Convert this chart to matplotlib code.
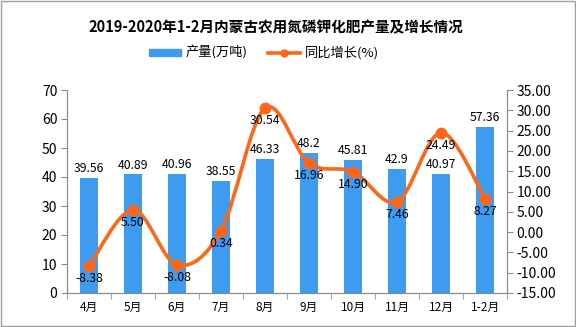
import matplotlib.pyplot as plt
import numpy as np
from matplotlib.path import Path
from matplotlib.patches import PathPatch
from matplotlib.lines import Line2D
from matplotlib.patches import Patch

plt.rcParams['font.family'] = ['Noto Sans CJK SC', 'DejaVu Sans']

months = ['4月', '5月', '6月', '7月', '8月', '9月', '10月', '11月', '12月', '1-2月']
output = [39.56, 40.89, 40.96, 38.55, 46.33, 48.2, 45.81, 42.9, 40.97, 57.36]
growth = [-8.38, 5.50, -8.08, 0.34, 30.54, 16.96, 14.90, 7.46, 24.49, 8.27]
output_labels = ['39.56', '40.89', '40.96', '38.55', '46.33', '48.2', '45.81', '42.9', '40.97', '57.36']
growth_labels = ['-8.38', '5.50', '-8.08', '0.34', '30.54', '16.96', '14.90', '7.46', '24.49', '8.27']

bar_color = '#3d9cf0'
line_color = '#ff6619'
axis_color = '#8c8c8c'

fig = plt.figure(figsize=(5.76, 3.27), dpi=100)
ax = fig.add_axes([67 / 576, 1 - 293 / 327, 440 / 576, 203 / 327])
ax2 = ax.twinx()

x = np.arange(len(months))
ax.bar(x, output, width=0.41, color=bar_color, zorder=2)
for xi, v, s in zip(x, output, output_labels):
    ax.text(xi, v + 1.0, s, ha='center', va='bottom', fontsize=8.8)

ax.set_xlim(-0.5, len(months) - 0.5)
ax.set_ylim(0, 70)
ax.set_yticks(range(0, 71, 10))
ax.set_xticks(x)
ax.set_xticklabels(months, fontsize=8.5)
ax.set_xticks(np.arange(-0.5, len(months), 1), minor=True)
ax.tick_params(axis='x', which='major', length=0, pad=6)
ax.tick_params(axis='x', which='minor', length=4, color=axis_color, direction='out')
ax.tick_params(axis='y', labelsize=10, length=4, color=axis_color, pad=3)

ax2.set_ylim(-15, 35)
ax2.set_yticks(range(-15, 36, 5))
ax2.set_yticklabels(['%.2f' % t for t in range(-15, 36, 5)])
ax2.tick_params(axis='y', labelsize=10, length=4, color=axis_color, pad=3)

for a in (ax, ax2):
    a.spines['top'].set_visible(False)
    for side in ('left', 'right', 'bottom'):
        a.spines[side].set_color(axis_color)

# smooth curve through the points (Catmull-Rom as cubic Bezier segments)
px = np.array(x, dtype=float)
py = np.array(growth, dtype=float)
verts = [(px[0], py[0])]
codes = [Path.MOVETO]
n = len(px)
for i in range(n - 1):
    p0 = (px[max(i - 1, 0)], py[max(i - 1, 0)])
    p1 = (px[i], py[i])
    p2 = (px[i + 1], py[i + 1])
    p3 = (px[min(i + 2, n - 1)], py[min(i + 2, n - 1)])
    t = 1 / 6
    c1 = (p1[0] + (p2[0] - p0[0]) * t, p1[1] + (p2[1] - p0[1]) * t)
    c2 = (p2[0] - (p3[0] - p1[0]) * t, p2[1] - (p3[1] - p1[1]) * t)
    verts += [c1, c2, p2]
    codes += [Path.CURVE4] * 3
ax2.add_patch(PathPatch(Path(verts, codes), facecolor='none', edgecolor=line_color, lw=2.6, zorder=3))
ax2.plot(px, py, 'o', color=line_color, markersize=7.5, zorder=4)
for xi, v, s in zip(px, py, growth_labels):
    ax2.text(xi, v - 1.5, s, ha='center', va='top', fontsize=8.8)

fig.text(276 / 576, 1 - 27 / 327, '2019-2020年1-2月内蒙古农用氮磷钾化肥产量及增长情况',
         ha='center', va='center', fontsize=10.5, fontweight='bold')

handles = [Patch(color=bar_color), Line2D([0], [0], color=line_color, lw=2.6, marker='o', markersize=5)]
fig.legend(handles, ['产量(万吨)', '同比增长(%)'], loc='center', bbox_to_anchor=(264 / 576, 1 - 53 / 327),
           ncol=2, frameon=False, fontsize=9.5, handlelength=2.4, handleheight=0.5,
           handletextpad=0.4, columnspacing=1.5)

fig.patches.append(plt.Rectangle((0.001, 0.002), 0.997, 0.996, transform=fig.transFigure,
                                 fill=False, edgecolor='#a0a0a0', lw=1))

fig.savefig('out.png', dpi=100)
